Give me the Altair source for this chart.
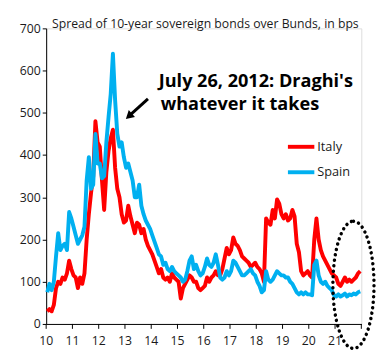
import altair as alt
import pandas as pd

# ---- data (monthly) ----
years = list(range(2010, 2022))
months = [f"{y}-{m:02d}" for y in years for m in range(1, 13)]

italy = [
    30, 35, 30, 45, 85, 100, 95, 110, 105, 120, 150, 130,      # 2010
    115, 110, 85, 110, 95, 120, 200, 260, 310, 350, 480, 430,  # 2011
    420, 340, 270, 360, 410, 440, 460, 370, 320, 300, 260, 240,  # 2012
    245, 280, 255, 235, 215, 240, 235, 215, 225, 200, 185, 175,  # 2013
    165, 150, 135, 120, 130, 110, 105, 110, 100, 120, 110, 105,  # 2014
    100, 60, 85, 95, 105, 115, 110, 100, 100, 85, 80, 85,        # 2015
    90, 110, 100, 110, 115, 125, 115, 115, 130, 155, 180, 165,   # 2016
    175, 205, 190, 185, 175, 160, 155, 150, 145, 135, 140, 145,  # 2017
    135, 130, 120, 100, 250, 240, 235, 270, 250, 295, 285, 260,  # 2018
    250, 260, 245, 250, 270, 255, 190, 170, 125, 115, 120, 125,  # 2019
    115, 110, 200, 250, 200, 175, 160, 150, 140, 130, 120, 115,  # 2020
    110, 95, 90, 100, 110, 100, 105, 100, 105, 110, 120, 125,    # 2021
]
spain = [
    75, 95, 80, 100, 160, 215, 175, 185, 190, 175, 265, 250,     # 2010
    230, 210, 190, 200, 210, 230, 340, 395, 320, 330, 450, 380,  # 2011
    380, 345, 350, 430, 490, 545, 640, 530, 450, 420, 430, 395,  # 2012
    370, 380, 360, 340, 300, 300, 330, 280, 260, 245, 235, 225,  # 2013
    210, 195, 180, 165, 160, 140, 145, 130, 125, 135, 125, 120,  # 2014
    115, 110, 100, 105, 125, 150, 160, 130, 140, 125, 115, 120,  # 2015
    135, 155, 140, 135, 145, 165, 140, 110, 105, 110, 125, 115,  # 2016
    125, 150, 145, 135, 125, 115, 115, 120, 125, 130, 120, 115,  # 2017
    100, 90, 75, 80, 125, 105, 100, 105, 115, 125, 120, 115,     # 2018
    115, 110, 110, 100, 95, 85, 75, 70, 75, 70, 75, 70,          # 2019
    70, 68, 140, 150, 115, 100, 95, 100, 90, 85, 80, 68,         # 2020
    65, 70, 65, 68, 72, 65, 70, 68, 72, 70, 75, 77,              # 2021
]
countries = ["Italy", "Spain"]
colors = ["#FF0000", "#00B0F0"]

title_text = "Spread of 10-year sovereign bonds over Bunds, in bps"
note_lines = ["July 26, 2012: Draghi's", "whatever it takes"]
x_ticks = list(range(2010, 2023))
x_labels = [str(y - 2000) for y in range(2010, 2022)]
y_ticks = list(range(0, 701, 100))

# annotation anchors (data units)
arrow = {"x1": [2013.876], "y1": [533], "x2": [2013.149], "y2": [492]}
ellipse = {"x": [2021.70], "y": [92.7]}

# ---- build ----
t = [int(s[:4]) + (int(s[5:]) - 0.5) / 12 for s in months]
df = pd.DataFrame({
    "t": t * 2,
    "value": italy + spain,
    "country": [countries[0]] * len(italy) + [countries[1]] * len(spain),
})

W, H = 322, 302
FONT = "Open Sans"
TXT = "#1a1a1a"

xs = alt.Scale(domain=[2010, 2022], nice=False, zero=False)
ys = alt.Scale(domain=[0, 700], nice=False)

lines = alt.Chart(df).mark_line(strokeWidth=4, strokeJoin="round").encode(
    x=alt.X("t:Q", scale=xs, axis=alt.Axis(
        values=x_ticks, title=None, grid=False, labels=False, ticks=False,
        domainColor="black")),
    y=alt.Y("value:Q", scale=ys, axis=alt.Axis(
        values=y_ticks, title=None, grid=False,
        domainColor="black", tickColor="black", tickSize=4, labelPadding=2,
        labelFont=FONT, labelFontSize=12.5, labelColor=TXT)),
    color=alt.Color("country:N", scale=alt.Scale(domain=countries, range=colors), legend=None),
    order=alt.Order("t:Q"),
)

tick_df = pd.DataFrame({"yr": x_ticks})
xticks = alt.Chart(tick_df).mark_rule(color="black", strokeWidth=1).encode(
    x=alt.X("yr:Q", scale=xs), y=alt.value(H), y2=alt.value(H + 5))

lab_df = pd.DataFrame({"yr": x_ticks[:-1], "lab": x_labels})
xlabels = alt.Chart(lab_df).mark_text(
    align="center", baseline="alphabetic", font=FONT, fontSize=12.5, color=TXT
).encode(x=alt.X("yr:Q", scale=xs), y=alt.value(H + 22), text="lab:N")

title_mark = alt.Chart(pd.DataFrame({"txt": [title_text]})).mark_text(
    align="left", baseline="alphabetic", font=FONT, fontSize=12.5, color=TXT
).encode(x=alt.value(6), y=alt.value(0), text="txt:N")

note1 = alt.Chart(pd.DataFrame({"txt": [note_lines[0]]})).mark_text(
    align="left", baseline="alphabetic", font=FONT, fontSize=18.5, fontWeight="bold", color="black"
).encode(x=alt.value(115), y=alt.value(60), text="txt:N")
note2 = alt.Chart(pd.DataFrame({"txt": [note_lines[1]]})).mark_text(
    align="left", baseline="alphabetic", font=FONT, fontSize=18.5, fontWeight="bold", color="black"
).encode(x=alt.value(117), y=alt.value(83), text="txt:N")

adf = pd.DataFrame(arrow)
arrow_line = alt.Chart(adf).mark_rule(color="black", strokeWidth=3).encode(
    x=alt.X("x1:Q", scale=xs), y=alt.Y("y1:Q", scale=ys),
    x2="x2:Q", y2="y2:Q")
arrow_head = alt.Chart(adf).mark_point(
    shape="triangle-up", filled=True, color="black", size=90, angle=228, opacity=1
).encode(x=alt.X("x2:Q", scale=xs), y=alt.Y("y2:Q", scale=ys))

leg_rules = []
for i, (name, col) in enumerate(zip(countries, colors)):
    yy = 121 + i * 26
    leg_rules.append(alt.Chart(pd.DataFrame({"n": [name]})).mark_rule(
        color=col, strokeWidth=4).encode(x=alt.value(247), x2=alt.value(274), y=alt.value(yy)))
    leg_rules.append(alt.Chart(pd.DataFrame({"n": [name]})).mark_text(
        align="left", baseline="middle", font=FONT, fontSize=13, color=TXT
    ).encode(x=alt.value(277), y=alt.value(yy), text="n:N"))

ell_path = "M0,-1 A0.323,1 0 1,1 0,1 A0.323,1 0 1,1 0,-1 Z"
ell = alt.Chart(pd.DataFrame(ellipse)).mark_point(
    shape=ell_path, size=16900, filled=False, stroke="black", strokeWidth=3.5,
    strokeDash=[0.1, 5.5], strokeCap="round", opacity=1
).encode(x=alt.X("x:Q", scale=xs), y=alt.Y("y:Q", scale=ys))

chart = alt.layer(
    lines, xticks, xlabels, title_mark, note1, note2, arrow_line, arrow_head, *leg_rules, ell
).properties(
    width=W, height=H, autosize="none",
    padding={"left": 39, "top": 17, "right": 15, "bottom": 33},
).configure_view(stroke=None).configure(background="white")

chart.save("out.html", embed_options={"renderer": "svg", "actions": False})
